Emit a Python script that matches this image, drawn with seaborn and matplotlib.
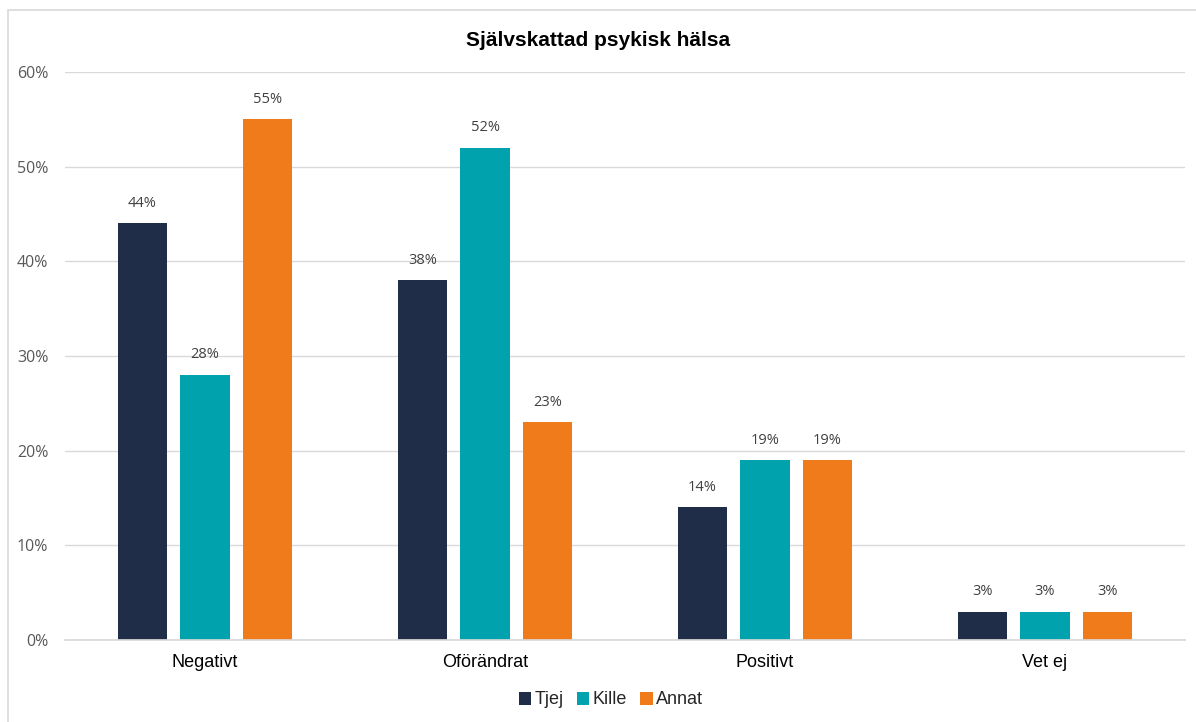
import matplotlib
matplotlib.use("Agg")
import matplotlib.pyplot as plt
import seaborn as sns
import pandas as pd
from matplotlib.patches import Rectangle
from matplotlib.ticker import PercentFormatter

categories = ["Negativt", "Oförändrat", "Positivt", "Vet ej"]
series = ["Tjej", "Kille", "Annat"]
tjej = [44, 38, 14, 3]
kille = [28, 52, 19, 3]
annat = [55, 23, 19, 3]
colors = ["#1F2D48", "#00A3AD", "#F07B1A"]

rows = []
for s, vals in zip(series, [tjej, kille, annat]):
    for c, v in zip(categories, vals):
        rows.append({"cat": c, "serie": s, "val": v})
df = pd.DataFrame(rows)

sns.set_theme(style="white")
plt.rcParams['font.family'] = ['Liberation Sans', 'DejaVu Sans']

fig = plt.figure(figsize=(11.96, 7.22), dpi=100)
ax = fig.add_axes([65/1196, 1-640/722, (1185-65)/1196, (640-72)/722])

sns.barplot(data=df, x="cat", y="val", hue="serie", palette=colors,
            width=0.67, gap=0.215, ax=ax, legend=True, saturation=1, linewidth=0)

ax.set_ylim(0, 60)
ax.set_xlim(-0.5, 3.5)
ax.set_yticks(range(0, 61, 10))
ax.yaxis.set_major_formatter(PercentFormatter(decimals=0))
ax.grid(axis="y", color="#D9D9D9", linewidth=1)
ax.set_axisbelow(True)
for sp in ["top", "right", "left"]:
    ax.spines[sp].set_visible(False)
ax.spines["bottom"].set_color("#D9D9D9")
ax.tick_params(axis="y", length=0, labelsize=11.5, labelcolor="#595959", pad=12)
for t in ax.get_yticklabels():
    t.set_family(["Open Sans", "DejaVu Sans"])
ax.tick_params(axis="x", length=0, labelsize=13, labelcolor="#000000", pad=10)
ax.set_xlabel("")
ax.set_ylabel("")

for cont in ax.containers:
    ax.bar_label(cont, labels=[f"{v:.0f}%" for v in cont.datavalues], padding=9,
                 fontsize=10.5, color="#404040", family=["Open Sans", "DejaVu Sans"])

leg = ax.legend(loc="center", ncol=3,
                frameon=False, fontsize=13, handlelength=0.7, handleheight=0.7,
                handletextpad=0.2, columnspacing=0.7)
leg.set_bbox_to_anchor(((611 - 65) / 1120, -(700 - 640) / 568), transform=ax.transAxes)

fig.text(0.5, 1 - 40/722, "Självskattad psykisk hälsa", ha="center", va="center",
         fontsize=15, fontweight="bold", color="#000000")

fig.patches.append(Rectangle((8/1196, -0.01), 1.02, 1 - 10/722 + 0.01, transform=fig.transFigure,
                             fill=False, edgecolor="#D9D9D9", linewidth=1.2))

fig.savefig("out.png", dpi=100)
